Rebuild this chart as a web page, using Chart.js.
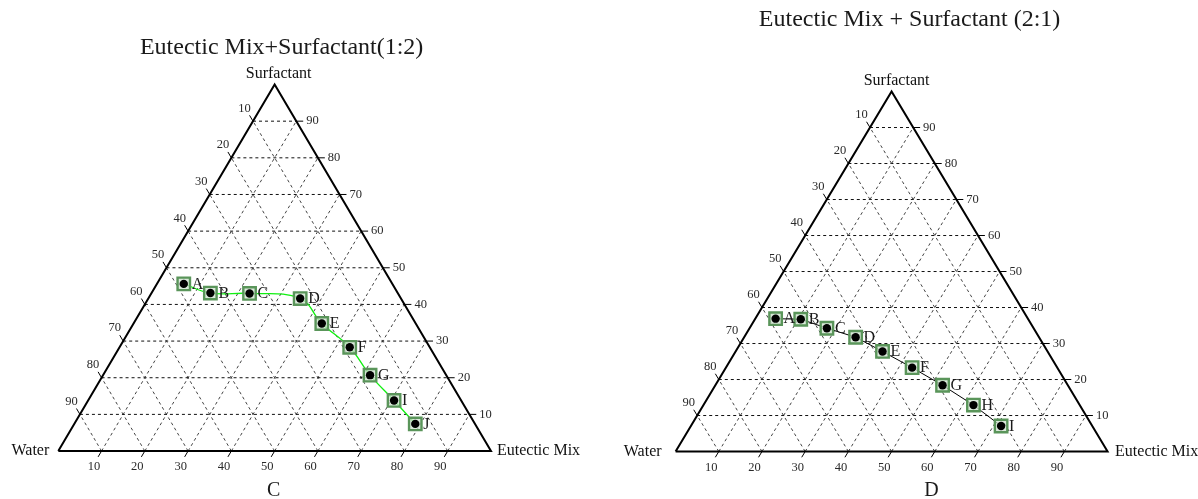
<!DOCTYPE html>
<html>
<head>
<meta charset="utf-8">
<script src="https://cdn.jsdelivr.net/npm/chart.js@4.4.1/dist/chart.umd.min.js"></script>
<style>
  html, body { margin:0; padding:0; background:#fff; }
  #wrap { position:relative; width:1198px; height:499px; overflow:hidden; }
  canvas { position:absolute; top:0; }
</style>
</head>
<body>
<div id="wrap">
  <canvas id="cLeft" width="599" height="499" style="left:0"></canvas>
  <canvas id="cRight" width="599" height="499" style="left:599px"></canvas>
</div>
<script>
// ---------- data ----------
const tickValues = [10, 20, 30, 40, 50, 60, 70, 80, 90];

// Chart C : Eutectic Mix + Surfactant (1:2)
const pointLabelsC = ['A', 'B', 'C', 'D', 'E', 'F', 'G', 'I', 'J'];
const surfactantC  = [45.6, 43.1, 43.0, 41.6, 34.8, 28.3, 20.7, 13.8, 7.4];
const eutecticC    = [6.2, 13.6, 22.7, 35.1, 43.5, 53.2, 61.7, 70.7, 78.8];

// Chart D : Eutectic Mix + Surfactant (2:1)
const pointLabelsD = ['A', 'B', 'C', 'D', 'E', 'F', 'G', 'H', 'I'];
const surfactantD  = [36.9, 36.75, 34.25, 31.75, 27.8, 23.3, 18.4, 12.9, 7.1];
const eutecticD    = [4.7, 10.6, 17.9, 25.8, 34.0, 43.1, 52.6, 62.5, 71.8];

const cornerLabels = { top: 'Surfactant', left: 'Water', right: 'Eutectic Mix' };
// ---------------------------

const SERIF = '"Liberation Serif", "Times New Roman", serif';
const tern = (e, s) => ({ x: e + s / 2, y: s });

function buildDatasets(eut, surf, lineColor, lineWidth, tension) {
  const ds = [];
  tickValues.forEach(t => {
    const common = { showLine: true, pointRadius: 0, borderWidth: 1, borderDash: [3, 3], fill: false, order: 10 };
    ds.push(Object.assign({ data: [tern(0, t), tern(100 - t, t)], borderColor: '#111' }, common));
    ds.push(Object.assign({ data: [tern(t, 0), tern(t, 100 - t)], borderColor: '#444' }, common));
    ds.push(Object.assign({ data: [tern(100 - t, 0), tern(0, 100 - t)], borderColor: '#444' }, common));
  });
  ds.push({ data: [tern(0, 0), tern(100, 0), tern(0, 100), tern(0, 0)], showLine: true, pointRadius: 0,
            borderColor: '#000', borderWidth: 2, order: 5 });
  const pts = eut.map((e, i) => tern(e, surf[i]));
  ds.push({ data: pts, showLine: true, pointRadius: 0, borderColor: lineColor, borderWidth: lineWidth,
            tension: tension, order: 3 });
  ds.push({ data: pts, showLine: false, pointStyle: 'rect', pointRadius: 8.8, borderColor: '#5a955a',
            backgroundColor: 'rgba(205,225,205,0.75)', borderWidth: 2.4, order: 2 });
  ds.push({ data: pts, showLine: false, pointStyle: 'circle', pointRadius: 4.2, borderColor: '#000',
            backgroundColor: '#000', borderWidth: 0, order: 1 });
  return ds;
}

function textPlugin(cfg) {
  return {
    id: 'ternaryText',
    afterDatasetsDraw(chart) {
      const ctx = chart.ctx;
      const xs = chart.scales.x, ys = chart.scales.y;
      const P = (e, s) => [xs.getPixelForValue(e + s / 2), ys.getPixelForValue(s)];
      const k = 1.6;
      ctx.save();
      ctx.strokeStyle = '#000';
      ctx.lineWidth = 1;
      ctx.fillStyle = '#2a2a2a';
      ctx.font = '12.5px ' + SERIF;
      tickValues.forEach(t => {
        // bottom axis (Eutectic Mix)
        let a = P(t, 0), b = P(t, -k);
        ctx.beginPath(); ctx.moveTo(a[0], a[1]); ctx.lineTo(b[0], b[1]); ctx.stroke();
        ctx.textAlign = 'center'; ctx.textBaseline = 'middle';
        ctx.fillText(String(t), b[0] - 4, b[1] + 10);
        // left axis (Water)
        a = P(0, 100 - t); b = P(-k, 100 - t + k);
        ctx.beginPath(); ctx.moveTo(a[0], a[1]); ctx.lineTo(b[0], b[1]); ctx.stroke();
        ctx.fillText(String(t), b[0] - 5, b[1] - 7);
        // right axis (Surfactant)
        a = P(100 - t, t); b = P(100 - t + k, t);
        ctx.beginPath(); ctx.moveTo(a[0], a[1]); ctx.lineTo(b[0], b[1]); ctx.stroke();
        ctx.textAlign = 'left';
        ctx.fillText(String(t), b[0] + 3, b[1]);
      });
      // corner labels
      ctx.fillStyle = '#111';
      ctx.font = '16px ' + SERIF;
      ctx.textBaseline = 'middle';
      const apex = P(0, 100), wc = P(0, 0), ec = P(100, 0);
      ctx.textAlign = 'center';
      ctx.fillText(cornerLabels.top, apex[0] + cfg.topDx, apex[1] - 11);
      ctx.textAlign = 'right';
      ctx.fillText(cornerLabels.left, wc[0] - cfg.leftGap, wc[1]);
      ctx.textAlign = 'left';
      ctx.fillText(cornerLabels.right, ec[0] + cfg.rightGap, ec[1]);
      // point labels
      ctx.font = '16px ' + SERIF;
      ctx.fillStyle = '#1a1a1a';
      cfg.eut.forEach((e, i) => {
        const p = P(e, cfg.surf[i]);
        ctx.fillText(cfg.labels[i], p[0] + 8, p[1] + 0.5);
      });
      // title and panel letter
      ctx.textAlign = 'center';
      ctx.font = cfg.titleSize + 'px ' + SERIF;
      ctx.fillStyle = '#1a1a1a';
      ctx.fillText(cfg.title, apex[0] + cfg.titleDx, cfg.titleY);
      ctx.font = '20px ' + SERIF;
      ctx.fillText(cfg.panel, apex[0] + cfg.panelDx, 491);
      ctx.restore();
    }
  };
}

function makeChart(id, cfg) {
  new Chart(document.getElementById(id), {
    type: 'scatter',
    data: { datasets: buildDatasets(cfg.eut, cfg.surf, cfg.lineColor, cfg.lineWidth, cfg.tension) },
    options: {
      responsive: false, animation: false, devicePixelRatio: 1,
      layout: { padding: 0, autoPadding: false },
      plugins: { legend: { display: false }, tooltip: { enabled: false }, title: { display: false } },
      scales: {
        x: { type: 'linear', display: false, min: cfg.xmin, max: cfg.xmax },
        y: { type: 'linear', display: false, min: cfg.ymin, max: cfg.ymax }
      }
    },
    plugins: [textPlugin(cfg)]
  });
}

makeChart('cLeft', {
  eut: eutecticC, surf: surfactantC, labels: pointLabelsC,
  lineColor: '#10f010', lineWidth: 1.3, tension: 0.4,
  title: 'Eutectic Mix+Surfactant(1:2)', titleSize: 24, titleDx: 7, titleY: 48,
  panel: 'C', panelDx: -1, topDx: 4,
  leftGap: 9, rightGap: 6,
  xmin: -13.47, xmax: 124.96, ymin: -13.09, ymax: 123.06
});

makeChart('cRight', {
  eut: eutecticD, surf: surfactantD, labels: pointLabelsD,
  lineColor: '#000', lineWidth: 1, tension: 0,
  title: 'Eutectic Mix + Surfactant (2:1)', titleSize: 24, titleDx: 18, titleY: 20,
  panel: 'D', panelDx: 40, topDx: 5,
  leftGap: 14, rightGap: 7.5,
  xmin: -17.73, xmax: 120.93, ymin: -13.19, ymax: 125.42
});
</script>
</body>
</html>
